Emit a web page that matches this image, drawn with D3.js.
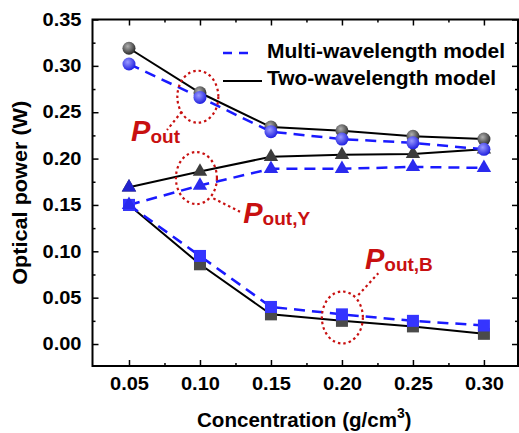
<!DOCTYPE html>
<html>
<head>
<meta charset="utf-8">
<script src="https://cdn.jsdelivr.net/npm/d3@7"></script>
<style>
  body { margin: 0; background: #fff; }
  svg { display: block; font-family: "Liberation Sans", Arial, sans-serif; }
</style>
</head>
<body>
<div class="viz-container"></div>
<script>
// data
const conc = [0.05, 0.10, 0.15, 0.20, 0.25, 0.30];
const twoPout  = [0.319, 0.271, 0.234, 0.230, 0.224, 0.221];
const multiPout = [0.302, 0.266, 0.229, 0.221, 0.217, 0.210];
const twoPoutY  = [0.169, 0.186, 0.202, 0.204, 0.205, 0.210];
const multiPoutY = [0.150, 0.171, 0.189, 0.189, 0.191, 0.190];
const twoPoutB  = [0.150, 0.086, 0.032, 0.025, 0.019, 0.011];
const multiPoutB = [0.150, 0.095, 0.040, 0.032, 0.025, 0.020];
const xTicks = [0.05, 0.10, 0.15, 0.20, 0.25, 0.30];
const xMinor = [0.075, 0.125, 0.175, 0.225, 0.275];
const yTicks = [0, 0.05, 0.10, 0.15, 0.20, 0.25, 0.30, 0.35];
const yMinor = [0.025, 0.075, 0.125, 0.175, 0.225, 0.275, 0.325];

const W = 519, H = 433;
const pL = 92.5, pR = 518, pT = 19.5, pB = 366;

let svg = d3.select(".viz-container")
  .append("svg")
    .attr("width", W)
    .attr("height", H);

let x = d3.scaleLinear().domain([0.0243, 0.324]).range([pL, pR]);
let y = d3.scaleLinear().domain([-0.0237, 0.35]).range([pB, pT]);

// gradients for the spheres
let defs = svg.append("defs");
function sphere(id, c0, c1) {
  let g = defs.append("radialGradient").attr("id", id)
    .attr("cx", "40%").attr("cy", "35%").attr("r", "65%");
  g.append("stop").attr("offset", "0%").attr("stop-color", c0);
  g.append("stop").attr("offset", "100%").attr("stop-color", c1);
}
sphere("gGray", "#b0b0b0", "#2a2a2a");
sphere("gBlue", "#9a9aff", "#2020e0");

// axes, ticks inward
function fmt(d) { return d3.format(".2f")(d); }
let tickFont = "bold 18px 'Liberation Sans', Arial, sans-serif";

svg.append("g").attr("transform", "translate(0," + pB + ")")
  .call(d3.axisBottom(x).tickValues(xTicks).tickSize(-6).tickPadding(11).tickFormat(fmt));
svg.append("g").attr("transform", "translate(0," + pB + ")")
  .call(d3.axisBottom(x).tickValues(xMinor).tickSize(-3).tickFormat(""));
svg.append("g").attr("transform", "translate(0," + pT + ")")
  .call(d3.axisTop(x).tickValues(xTicks).tickSize(-6).tickFormat(""));
svg.append("g").attr("transform", "translate(0," + pT + ")")
  .call(d3.axisTop(x).tickValues(xMinor).tickSize(-3).tickFormat(""));
svg.append("g").attr("transform", "translate(" + pL + ",0)")
  .call(d3.axisLeft(y).tickValues(yTicks).tickSize(-6).tickPadding(11).tickFormat(fmt));
svg.append("g").attr("transform", "translate(" + pL + ",0)")
  .call(d3.axisLeft(y).tickValues(yMinor).tickSize(-3).tickFormat(""));
svg.append("g").attr("transform", "translate(" + pR + ",0)")
  .call(d3.axisRight(y).tickValues(yTicks).tickSize(-6).tickFormat(""));
svg.append("g").attr("transform", "translate(" + pR + ",0)")
  .call(d3.axisRight(y).tickValues(yMinor).tickSize(-3).tickFormat(""));

svg.selectAll(".domain").remove();
svg.selectAll(".tick line").attr("stroke", "#000").attr("stroke-width", 1.5);
svg.selectAll(".tick text").style("font", tickFont).attr("fill", "#000")
  .attr("textLength", 39).attr("lengthAdjust", "spacingAndGlyphs");

svg.append("rect")
  .attr("x", pL).attr("y", pT)
  .attr("width", pR - pL).attr("height", pB - pT)
  .attr("fill", "none").attr("stroke", "#000").attr("stroke-width", 2);

// axis titles
svg.append("text")
  .attr("transform", "translate(27," + ((pT + pB) / 2) + ") rotate(-90)")
  .attr("text-anchor", "middle")
  .attr("textLength", 184).attr("lengthAdjust", "spacingAndGlyphs")
  .style("font", "bold 20px 'Liberation Sans', Arial, sans-serif")
  .text("Optical power (W)");

let xt = svg.append("text")
  .attr("x", 197).attr("y", 427)
  .style("font", "bold 20px 'Liberation Sans', Arial, sans-serif");
xt.append("tspan").attr("textLength", 200).attr("lengthAdjust", "spacingAndGlyphs").text("Concentration (g/cm");
xt.append("tspan").attr("dy", -9).style("font-size", "14px").text("3");
xt.append("tspan").attr("dy", 9).text(")");

// lines
let line = d3.line().x((d, i) => x(conc[i])).y(d => y(d));

function drawSeries(vals, dashed) {
  svg.append("path").datum(vals)
    .attr("d", line)
    .attr("fill", "none")
    .attr("stroke", dashed ? "#1a1aff" : "#000")
    .attr("stroke-width", dashed ? 2.5 : 2)
    .attr("stroke-dasharray", dashed ? "11,7" : null);
}

function circles(vals, grad) {
  svg.append("g").selectAll("circle").data(vals).enter()
    .append("circle")
      .attr("cx", (d, i) => x(conc[i]))
      .attr("cy", d => y(d))
      .attr("r", 6.5)
      .attr("fill", "url(#" + grad + ")");
}
function triangles(vals, col) {
  svg.append("g").selectAll("path").data(vals).enter()
    .append("path")
      .attr("d", d3.symbol().type(d3.symbolTriangle).size(90))
      .attr("transform", (d, i) => "translate(" + x(conc[i]) + "," + y(d) + ")")
      .attr("fill", col);
}
function squares(vals, col) {
  svg.append("g").selectAll("rect").data(vals).enter()
    .append("rect")
      .attr("x", (d, i) => x(conc[i]) - 6)
      .attr("y", d => y(d) - 6)
      .attr("width", 12).attr("height", 12)
      .attr("fill", col);
}

drawSeries(twoPout, false);
drawSeries(twoPoutY, false);
drawSeries(twoPoutB, false);
squares(twoPoutB, "#4a4a4a");
triangles(twoPoutY, "#3c3c3c");
circles(twoPout, "gGray");

drawSeries(multiPout, true);
drawSeries(multiPoutY, true);
drawSeries(multiPoutB, true);
squares(multiPoutB, "#3535ff");
triangles(multiPoutY, "#2a2aee");
circles(multiPout, "gBlue");
// the blue triangle sitting on the first black one
triangles([twoPoutY[0]], "#2222cc");

// red annotations
const red = "#c81010";
function ellipse(cx, cy) {
  svg.append("ellipse")
    .attr("cx", x(cx)).attr("cy", y(cy))
    .attr("rx", 20.5).attr("ry", 26)
    .attr("fill", "none").attr("stroke", red)
    .attr("stroke-width", 2.2).attr("stroke-dasharray", "2.5,3");
}
function leader(x1, y1, x2, y2) {
  svg.append("line")
    .attr("x1", x(x1)).attr("y1", y(y1))
    .attr("x2", x(x2)).attr("y2", y(y2))
    .attr("stroke", red).attr("stroke-width", 2.2).attr("stroke-dasharray", "2.5,3");
}
function label(lx, ly, sub) {
  let t = svg.append("text")
    .attr("x", x(lx)).attr("y", y(ly))
    .attr("fill", red);
  t.append("tspan").style("font", "italic bold 29px 'Liberation Sans', Arial, sans-serif").text("P");
  t.append("tspan").attr("dy", 2).style("font", "bold 19px 'Liberation Sans', Arial, sans-serif").text(sub);
}

ellipse(0.0985, 0.2667);
leader(0.0871, 0.2505, 0.0768, 0.2308);
label(0.0515, 0.2188, "out");

ellipse(0.0975, 0.179);
leader(0.1094, 0.1571, 0.1282, 0.1427);
label(0.1305, 0.1303, "out,Y");

ellipse(0.2003, 0.0286);
leader(0.2115, 0.0528, 0.2256, 0.0763);
label(0.2162, 0.0807, "out,B");

// legend
let lg = svg.append("g");
lg.append("line").attr("x1", 223).attr("x2", 252).attr("y1", 53).attr("y2", 53)
  .attr("stroke", "#1a1aff").attr("stroke-width", 2.5).attr("stroke-dasharray", "9,7");
lg.append("line").attr("x1", 223).attr("x2", 262).attr("y1", 81).attr("y2", 81)
  .attr("stroke", "#000").attr("stroke-width", 2);
lg.append("text").attr("x", 267).attr("y", 58)
  .attr("textLength", 238).attr("lengthAdjust", "spacingAndGlyphs")
  .style("font", "bold 20px 'Liberation Sans', Arial, sans-serif").text("Multi-wavelength model");
lg.append("text").attr("x", 267).attr("y", 85)
  .attr("textLength", 229).attr("lengthAdjust", "spacingAndGlyphs")
  .style("font", "bold 20px 'Liberation Sans', Arial, sans-serif").text("Two-wavelength model");
</script>
</body>
</html>
